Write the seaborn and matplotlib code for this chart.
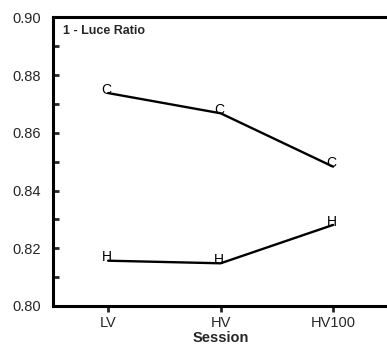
import pandas as pd
import matplotlib.pyplot as plt
import seaborn as sns

# Data
sessions = ["LV", "HV", "HV100"]
c_vals = [0.8738, 0.8668, 0.8483]
h_vals = [0.8157, 0.8148, 0.8281]
groups = ["C", "H"]

df = pd.DataFrame({
    "Session": sessions * 2,
    "value": c_vals + h_vals,
    "group": ["C"] * 3 + ["H"] * 3,
})

sns.set_style("ticks")
plt.rcParams["font.family"] = ["Liberation Sans", "DejaVu Sans"]

fig = plt.figure(figsize=(3.87, 3.54), dpi=100)
ax = fig.add_axes([0.137, 0.1356, 0.866, 0.815])

sns.lineplot(data=df, x="Session", y="value", hue="group",
             palette={"C": "black", "H": "black"}, linewidth=1.7,
             sort=False, legend=False, ax=ax)

# letter markers
for g in groups:
    sub = df[df["group"] == g].reset_index(drop=True)
    for i, row in sub.iterrows():
        ax.annotate(g, (i, row["value"]), xytext=(-1, -0.5),
                    textcoords="offset points", ha="center", va="baseline",
                    fontsize=10, color="black")

ax.set_xlim(-0.49, 2.49)
ax.set_ylim(0.80, 0.90)
ax.set_yticks([0.80, 0.82, 0.84, 0.86, 0.88, 0.90])
ax.set_yticks([0.81, 0.83, 0.85, 0.87, 0.89], minor=True)
ax.set_yticklabels(["0.80", "0.82", "0.84", "0.86", "0.88", "0.90"])

ax.tick_params(axis="y", which="both", direction="in", length=4, width=2,
               labelsize=10.5, pad=9)
ax.tick_params(axis="x", direction="out", length=4, width=2,
               labelsize=10.5, pad=3)

for s in ["left", "bottom", "top"]:
    ax.spines[s].set_linewidth(2.2)
    ax.spines[s].set_color("black")
ax.spines["right"].set_visible(False)

ax.set_xlabel("Session", fontsize=10.5, fontweight="bold", labelpad=1)
ax.set_ylabel("")
ax.text(0.03, 0.975, "1 - Luce Ratio", transform=ax.transAxes,
        fontsize=9, fontweight="bold", ha="left", va="top")

fig.savefig("out.png", dpi=100)
